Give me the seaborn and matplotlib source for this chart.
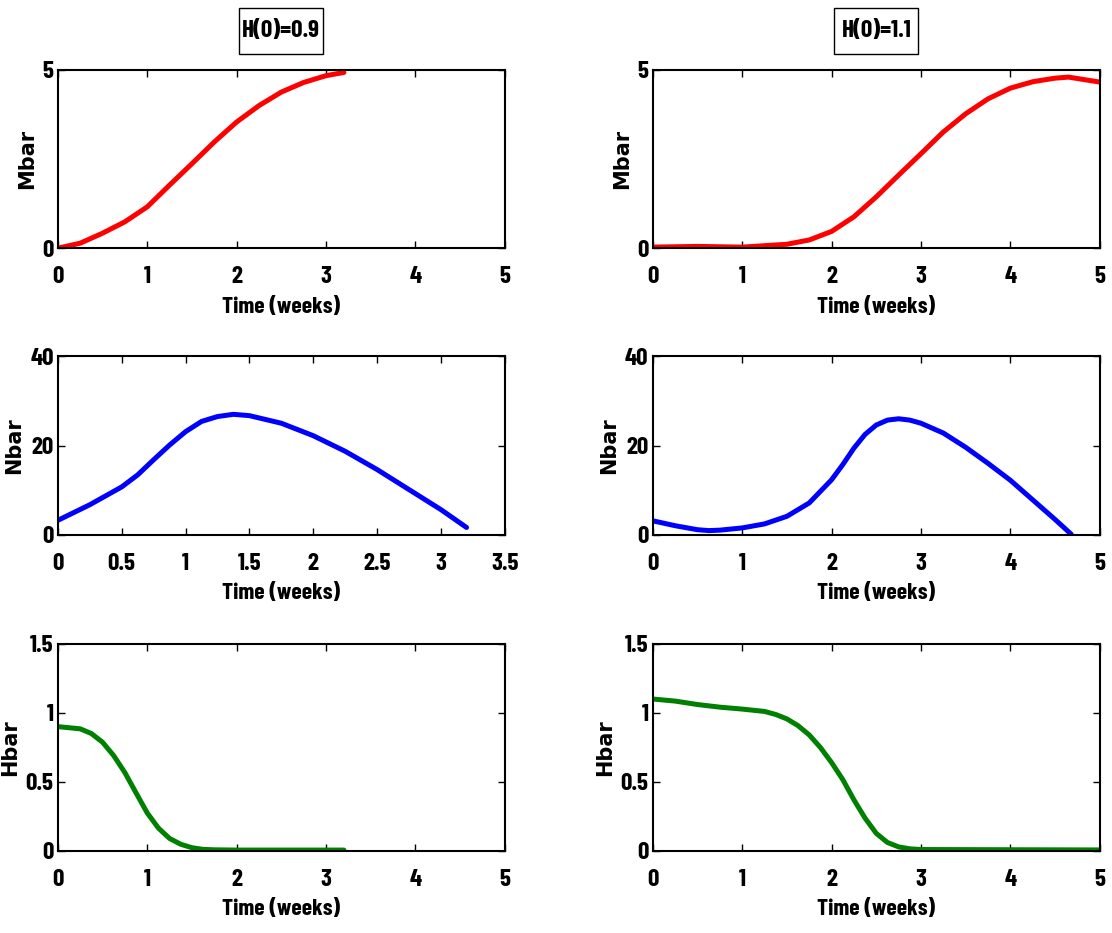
import numpy as np
import pandas as pd
import seaborn as sns
import matplotlib.pyplot as plt
from matplotlib.patches import Rectangle

# values (time in weeks)
t_left_m = [0, 0.25, 0.5, 0.75, 1, 1.25, 1.5, 1.75, 2, 2.25, 2.5, 2.75, 3, 3.2]
m_left = [0, 0.14, 0.42, 0.74, 1.16, 1.77, 2.37, 2.98, 3.54, 4.0, 4.38, 4.65, 4.84, 4.93]

t_right_m = [0, 0.5, 1, 1.5, 1.75, 2, 2.25, 2.5, 2.75, 3, 3.25, 3.5, 3.75, 4,
             4.25, 4.5, 4.65, 4.75, 5]
m_right = [0.03, 0.05, 0.03, 0.11, 0.23, 0.47, 0.88, 1.44, 2.05, 2.65, 3.26, 3.77,
           4.19, 4.49, 4.67, 4.77, 4.8, 4.76, 4.66]

t_left_n = [0, 0.25, 0.5, 0.625, 0.75, 0.875, 1, 1.125, 1.25, 1.375, 1.5, 1.75,
            2, 2.25, 2.5, 2.75, 3, 3.2]
n_left = [3.2, 6.7, 10.7, 13.4, 16.8, 20.1, 23.1, 25.4, 26.5, 27.0, 26.7, 25.0,
          22.2, 18.7, 14.6, 10.1, 5.6, 1.6]

t_right_n = [0, 0.25, 0.5, 0.63, 0.75, 1, 1.25, 1.5, 1.75, 2, 2.125, 2.25, 2.375,
             2.5, 2.625, 2.75, 2.875, 3, 3.25, 3.5, 3.75, 4, 4.25, 4.5, 4.68]
n_right = [3.1, 2.0, 1.1, 0.9, 1.0, 1.5, 2.4, 4.1, 7.1, 12.3, 15.7, 19.4, 22.5,
           24.6, 25.7, 26.0, 25.7, 25.0, 22.8, 19.6, 16.0, 12.2, 7.8, 3.4, 0.1]

t_left_h = [0, 0.25, 0.375, 0.5, 0.625, 0.75, 0.875, 1, 1.125, 1.25, 1.375, 1.5,
            1.625, 1.75, 2, 3.2]
h_left = [0.90, 0.884, 0.85, 0.787, 0.69, 0.567, 0.42, 0.275, 0.165, 0.09, 0.048,
          0.023, 0.011, 0.008, 0.006, 0.006]

t_right_h = [0, 0.25, 0.5, 0.75, 1, 1.25, 1.375, 1.5, 1.625, 1.75, 1.875, 2,
             2.125, 2.25, 2.375, 2.5, 2.625, 2.75, 2.875, 3, 5]
h_right = [1.10, 1.085, 1.06, 1.041, 1.027, 1.01, 0.988, 0.956, 0.907, 0.84,
           0.749, 0.64, 0.517, 0.37, 0.237, 0.127, 0.061, 0.029, 0.015, 0.01, 0.007]

titles = ["H(0)=0.9", "H(0)=1.1"]
ylabels = ["Mbar", "Nbar", "Hbar"]
xlabel = "Time (weeks)"

xticks_5 = [0, 1, 2, 3, 4, 5]
xticklabels_5 = ["0", "1", "2", "3", "4", "5"]
xticks_35 = [0, 0.5, 1, 1.5, 2, 2.5, 3, 3.5]
xticklabels_35 = ["0", "0.5", "1", "1.5", "2", "2.5", "3", "3.5"]
yticks = [[0, 5], [0, 20, 40], [0, 0.5, 1, 1.5]]
yticklabels = [["0", "5"], ["0", "20", "40"], ["0", "0.5", "1", "1.5"]]
colors = ["#ff0000", "#0000ff", "#008000"]

sns.set_style("ticks")
narrow = ["Barlow Condensed", "DejaVu Sans"]
wide = ["DejaVu Sans"]
plt.rcParams["font.family"] = narrow
for key in ["text.color", "axes.labelcolor", "xtick.color", "ytick.color",
            "axes.edgecolor"]:
    plt.rcParams[key] = "black"

W, H = 1112, 933
fig = plt.figure(figsize=(W / 100, H / 100), dpi=100)

lefts = [0.052, 0.587]
rows = [(0.734, 0.191), (0.427, 0.191), (0.088, 0.222)]
ax_w = 0.402

series = [
    [(t_left_m, m_left), (t_right_m, m_right)],
    [(t_left_n, n_left), (t_right_n, n_right)],
    [(t_left_h, h_left), (t_right_h, h_right)],
]

for r, (bottom, height) in enumerate(rows):
    for c, left in enumerate(lefts):
        ax = fig.add_axes([left, bottom, ax_w, height])
        tx, yv = series[r][c]
        df = pd.DataFrame({"t": tx, "v": yv})
        sns.lineplot(data=df, x="t", y="v", ax=ax, color=colors[r],
                     linewidth=3.6, sort=False)
        if r == 1 and c == 0:
            ax.set_xlim(0, 3.5)
            ax.set_xticks(xticks_35)
            ax.set_xticklabels(xticklabels_35)
        else:
            ax.set_xlim(0, 5)
            ax.set_xticks(xticks_5)
            ax.set_xticklabels(xticklabels_5)
        ax.set_ylim(yticks[r][0], yticks[r][-1])
        ax.set_yticks(yticks[r])
        ax.set_yticklabels(yticklabels[r])
        ax.tick_params(direction="in", top=True, right=True, length=5,
                       width=1, labelsize=18)
        ax.tick_params(axis="x", pad=13)
        ax.tick_params(axis="y", pad=3)
        for lab in ax.get_xticklabels() + ax.get_yticklabels():
            lab.set_fontweight("bold")
        for s in ax.spines.values():
            s.set_linewidth(1.5)
        ax.set_xlabel(xlabel, fontsize=17, fontweight="bold", labelpad=6)
        ax.set_ylabel(ylabels[r], fontsize=15, fontweight="bold",
                      family=wide, labelpad=4)
        if r == 0:
            # boxed title above the top row
            cx = left + ax_w / 2
            fig.patches.append(Rectangle((cx - 42 / W, 1 - 54 / H), 84 / W, 46 / H,
                                         transform=fig.transFigure, fill=False,
                                         ec="black", lw=1))
            fig.text(cx, 1 - 31 / H, titles[c], ha="center", va="center",
                     fontsize=18, fontweight="bold")

fig.savefig("out.png", dpi=100)
